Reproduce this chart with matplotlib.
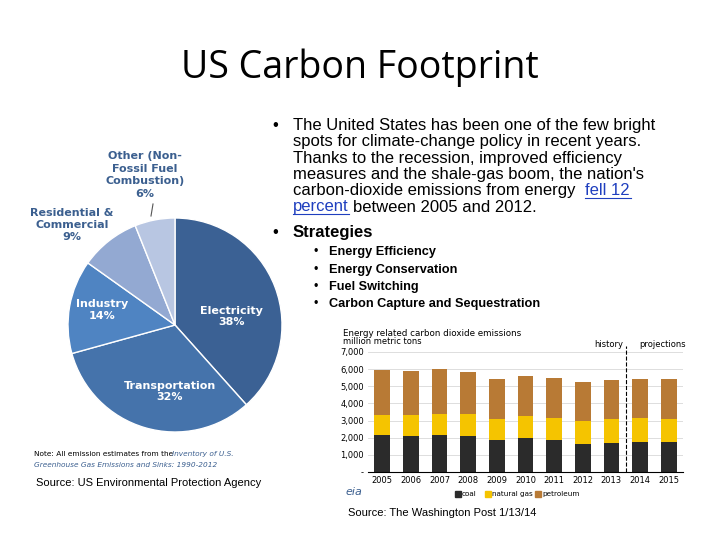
import matplotlib
matplotlib.use("Agg")
import matplotlib.pyplot as plt
import numpy as np

pie_labels = ["Electricity\n38%", "Transportation\n32%", "Industry\n14%", "Residential &\nCommercial\n9%", "Other (Non-\nFossil Fuel\nCombustion)\n6%"]
pie_values = [38, 32, 14, 9, 6]
pie_colors = ["#3b6194", "#4573ab", "#4f84c2", "#93a9d2", "#b8c6e2"]

years = ["2005", "2006", "2007", "2008", "2009", "2010", "2011", "2012", "2013", "2014", "2015"]
coal = [2140, 2080, 2140, 2080, 1850, 1960, 1850, 1610, 1670, 1730, 1730]
gas_top = [3310, 3310, 3370, 3370, 3070, 3250, 3130, 2960, 3070, 3130, 3070]
total = [5930, 5880, 5990, 5820, 5410, 5580, 5470, 5230, 5350, 5410, 5410]
gas = [g - c for g, c in zip(gas_top, coal)]
petro = [t - g for t, g in zip(total, gas_top)]
yticks = [0, 1000, 2000, 3000, 4000, 5000, 6000, 7000]

fig = plt.figure(figsize=(7.2, 5.4), dpi=100)
W, H = 720, 540
def fx(x): return x / W
def fy(y): return 1 - y / H

fig.text(fx(360), fy(68), "US Carbon Footprint", ha="center", va="center", fontsize=27, family="Open Sans")

# pie
ax = fig.add_axes([fx(68), fy(432), 214 / W, 214 / H])
wedges, _ = ax.pie(pie_values, colors=pie_colors, startangle=90, counterclock=False,
                   wedgeprops=dict(edgecolor="white", linewidth=1))
ax.set_aspect("equal")
ax.set_xlim(-1, 1); ax.set_ylim(-1, 1)
ax.axis("off")
ax.text(0.53, 0.08, pie_labels[0], ha="center", va="center", color="white", fontsize=8, fontweight="bold")
ax.text(-0.05, -0.62, pie_labels[1], ha="center", va="center", color="white", fontsize=8, fontweight="bold")
ax.text(-0.68, 0.14, pie_labels[2], ha="center", va="center", color="white", fontsize=8, fontweight="bold")
fig.text(fx(72), fy(225), pie_labels[3], ha="center", va="center", color="#3b5f8f", fontsize=8, fontweight="bold", linespacing=1.3)
fig.text(fx(145), fy(175), pie_labels[4], ha="center", va="center", color="#3b5f8f", fontsize=8, fontweight="bold", linespacing=1.3)
fig.add_artist(plt.Line2D([fx(153), fx(151)], [fy(204), fy(216)], color="#555555", lw=0.8))

fig.text(fx(34), fy(454), "Note: All emission estimates from the", fontsize=5.3, va="center")
fig.text(fx(172), fy(454), "Inventory of U.S.", fontsize=5.3, va="center", style="italic", color="#3b5f8f")
fig.text(fx(34), fy(465), "Greenhouse Gas Emissions and Sinks: 1990-2012", fontsize=5.3, va="center", style="italic", color="#3b5f8f")
fig.text(fx(36), fy(483), "Source: US Environmental Protection Agency", fontsize=8, va="center", family="Liberation Sans")

# bullets
bf = dict(family="Liberation Sans", fontsize=12, va="top")
lines = ["The United States has been one of the few bright",
         "spots for climate-change policy in recent years.",
         "Thanks to the recession, improved efficiency",
         "measures and the shale-gas boom, the nation's",
         "carbon-dioxide emissions from energy"]
fig.text(fx(272), fy(118), "\u2022", **bf)
for i, l in enumerate(lines):
    fig.text(fx(293), fy(118 + 16.3 * i), l, **bf)
fig.text(fx(585), fy(118 + 16.3 * 4), "fell 12", color="#1f3fbf", **bf)
fig.text(fx(293), fy(118 + 16.3 * 5), "percent", color="#1f3fbf", **bf)
fig.text(fx(353), fy(118 + 16.3 * 5), "between 2005 and 2012.", **bf)
fig.add_artist(plt.Line2D([fx(585), fx(631)], [fy(198), fy(198)], color="#1f3fbf", lw=0.8))
fig.add_artist(plt.Line2D([fx(293), fx(349)], [fy(214), fy(214)], color="#1f3fbf", lw=0.8))
fig.text(fx(272), fy(225), "\u2022", **bf)
fig.text(fx(293), fy(225), "Strategies", fontweight="bold", **bf)
subs = ["Energy Efficiency", "Energy Conservation", "Fuel Switching", "Carbon Capture and Sequestration"]
for i, s in enumerate(subs):
    y = 246 + i * 17.5
    fig.text(fx(314), fy(y), "\u2022", family="Liberation Sans", fontsize=9, va="top")
    fig.text(fx(329), fy(y), s, family="Liberation Sans", fontsize=9.2, va="top", fontweight="bold")

# bar chart
bx = fig.add_axes([fx(368), fy(472), 315 / W, 120 / H])
x = np.arange(len(years))
bx.bar(x, coal, 0.55, color="#2b2b2b")
bx.bar(x, gas, 0.55, bottom=coal, color="#f5c400")
bx.bar(x, petro, 0.55, bottom=gas_top, color="#b87a35")
bx.set_xlim(-0.5, len(years) - 0.5)
bx.set_ylim(0, 7000)
bx.set_yticks(yticks)
bx.set_yticklabels([f"{v:,}" if v else "-" for v in yticks], fontsize=6)
bx.set_xticks(x)
bx.set_xticklabels(years, fontsize=6)
bx.grid(axis="y", color="#d8d8d8", lw=0.6)
bx.set_axisbelow(True)
for s in ["top", "right", "left"]:
    bx.spines[s].set_visible(False)
bx.tick_params(length=0, pad=3)
bx.axvline(8.5, color="black", ls="--", lw=0.8, ymax=1.05, clip_on=False)
bx.text(7.9, 7300, "history", fontsize=6, ha="center")
bx.text(9.8, 7300, "projections", fontsize=6, ha="center")
fig.text(fx(343), fy(333), "Energy related carbon dioxide emissions", fontsize=6.3, va="center")
fig.text(fx(343), fy(342), "million metric tons", fontsize=6, va="center")
fig.text(fx(345), fy(492), "eia", fontsize=8, style="italic", color="#3b5f8f", va="center")
lx = [455, 485, 535]
for xx, c, lab in zip(lx, ["#2b2b2b", "#f5c400", "#b87a35"], ["coal", "natural gas", "petroleum"]):
    fig.patches.append(plt.Rectangle((fx(xx), fy(497)), 6 / W, 6 / H, color=c, transform=fig.transFigure))
    fig.text(fx(xx + 7), fy(494), lab, fontsize=5.2, va="center")
fig.text(fx(348), fy(513), "Source: The Washington Post 1/13/14", fontsize=8, va="center", family="Liberation Sans")

fig.savefig("out.png", dpi=100)
